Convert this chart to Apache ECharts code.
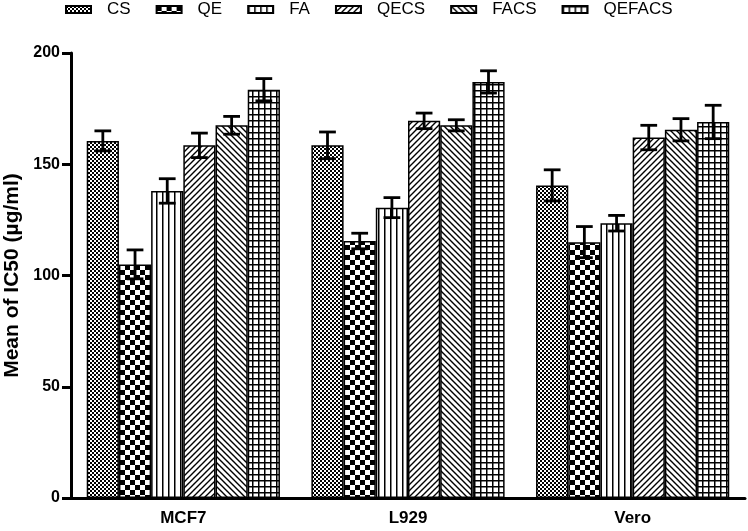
<!DOCTYPE html>
<html>
<head>
<meta charset="utf-8">
<script src="https://cdn.jsdelivr.net/npm/echarts@6/dist/echarts.min.js"></script>
<style>
  html, body { margin: 0; padding: 0; background: #fff; }
  #chart { width: 748px; height: 531px; }
</style>
</head>
<body>
<div id="chart"></div>
<script>
const categories = ["MCF7", "L929", "Vero"];
const seriesNames = ["CS", "QE", "FA", "QECS", "FACS", "QEFACS"];
// means per series, one value per cell line
const csMean = [160.5, 158.5, 140.5];
const qeMean = [105, 115.5, 115];
const faMean = [138, 130.5, 123.5];
const qecsMean = [158.5, 169.5, 162];
const facsMean = [167.5, 167.5, 165.5];
const qefacsMean = [183.5, 187, 169];
// SD / error half-widths
const csErr = [4.5, 6, 7];
const qeErr = [6.5, 3.5, 7];
const faErr = [5.5, 4.5, 3.5];
const qecsErr = [5.5, 3.5, 5.5];
const facsErr = [4, 2.5, 5];
const qefacsErr = [5, 5, 7.5];
const yTicks = [0, 50, 100, 150, 200];

const means = [csMean, qeMean, faMean, qecsMean, facsMean, qefacsMean];
const errs = [csErr, qeErr, faErr, qecsErr, facsErr, qefacsErr];

const FONT = "'Liberation Sans', Arial, sans-serif";

// hatch fills drawn on small canvases
function pattern(kind) {
  const c = document.createElement("canvas");
  const ctx = c.getContext("2d");
  let s = 6;
  if (kind === "fineChecker") s = 4;
  if (kind === "checker") s = 10;
  if (kind === "vertical") s = 6;
  c.width = s; c.height = s;
  ctx.fillStyle = "#fff";
  ctx.fillRect(0, 0, s, s);
  ctx.fillStyle = "#000";
  ctx.strokeStyle = "#000";
  if (kind === "fineChecker") {
    ctx.fillRect(0, 0, 2, 2);
    ctx.fillRect(2, 2, 2, 2);
  } else if (kind === "checker") {
    ctx.fillRect(0, 0, 5, 5);
    ctx.fillRect(5, 5, 5, 5);
  } else if (kind === "vertical") {
    ctx.fillRect(0, 0, 1.5, s);
  } else if (kind === "slash" || kind === "backslash") {
    ctx.lineWidth = 1.4;
    ctx.beginPath();
    if (kind === "slash") {
      ctx.moveTo(-1, s + 1); ctx.lineTo(s + 1, -1);
      ctx.moveTo(-1, 1); ctx.lineTo(1, -1);
      ctx.moveTo(s - 1, s + 1); ctx.lineTo(s + 1, s - 1);
    } else {
      ctx.moveTo(-1, -1); ctx.lineTo(s + 1, s + 1);
      ctx.moveTo(s - 1, -1); ctx.lineTo(s + 1, 1);
      ctx.moveTo(-1, s - 1); ctx.lineTo(1, s + 1);
    }
    ctx.stroke();
  } else if (kind === "grid") {
    ctx.fillRect(0, 0, 1.5, s);
    ctx.fillRect(0, 0, s, 1.5);
  }
  return { image: c, repeat: "repeat" };
}

const fills = [
  pattern("fineChecker"),
  pattern("checker"),
  pattern("vertical"),
  pattern("slash"),
  pattern("backslash"),
  pattern("grid")
];

const barSeries = seriesNames.map((name, i) => ({
  name: name,
  type: "bar",
  data: means[i],
  barGap: "0%",
  barCategoryGap: "14%",
  itemStyle: { color: fills[i], borderColor: "#000", borderWidth: 1.5 },
  emphasis: { disabled: true }
}));

const errData = [];
means.forEach((m, si) => {
  m.forEach((v, ci) => errData.push([ci, v, errs[si][ci], si]));
});

const errSeries = {
  type: "custom",
  name: "err",
  data: errData,
  z: 10,
  renderItem: function (params, api) {
    const ci = api.value(0), v = api.value(1), e = api.value(2), si = api.value(3);
    const band = api.size([1, 0])[0];
    const bw = band * (1 - 0.14) / 6;
    const center = api.coord([ci, v]);
    const x = center[0] + (si - 2.5) * bw;
    const top = api.coord([ci, v + e])[1];
    const bot = api.coord([ci, v - e])[1];
    const half = bw * 0.26;
    const style = { stroke: "#000", lineWidth: 2.8 };
    return {
      type: "group",
      children: [
        { type: "line", shape: { x1: x, y1: top, x2: x, y2: bot }, style: style },
        { type: "line", shape: { x1: x - half, y1: top, x2: x + half, y2: top }, style: style },
        { type: "line", shape: { x1: x - half, y1: bot, x2: x + half, y2: bot }, style: style }
      ]
    };
  }
};

const chart = echarts.init(document.getElementById("chart"));
chart.setOption({
  animation: false,
  textStyle: { fontFamily: FONT },
  legend: {
    data: seriesNames,
    icon: "rect",
    top: -4,
    left: 60,
    itemWidth: 25,
    itemHeight: 7,
    itemGap: 25,
    textStyle: { fontSize: 17, color: "#000", fontFamily: FONT, padding: [0, 0, 0, 11] }
  },
  grid: { left: 71, right: 3, top: 53, bottom: 33, containLabel: false, outerBoundsMode: "none" },
  xAxis: {
    type: "category",
    data: categories,
    axisLine: { lineStyle: { color: "#000", width: 3 } },
    axisTick: { alignWithLabel: true, length: 9, lineStyle: { color: "#000", width: 3 } },
    axisLabel: { color: "#000", fontWeight: "bold", fontSize: 17, margin: 12, fontFamily: FONT }
  },
  yAxis: {
    type: "value",
    min: yTicks[0],
    max: yTicks[yTicks.length - 1],
    interval: 50,
    name: "Mean of IC50 (µg/ml)",
    nameLocation: "middle",
    nameGap: 48,
    nameTextStyle: { color: "#000", fontWeight: "bold", fontSize: 21, fontFamily: FONT },
    axisLine: { show: true, lineStyle: { color: "#000", width: 3 } },
    axisTick: { show: true, length: 9, lineStyle: { color: "#000", width: 3 } },
    axisLabel: { color: "#000", fontWeight: "bold", fontSize: 16, margin: 11, fontFamily: FONT },
    splitLine: { show: false }
  },
  series: barSeries.concat([errSeries])
});
</script>
</body>
</html>
